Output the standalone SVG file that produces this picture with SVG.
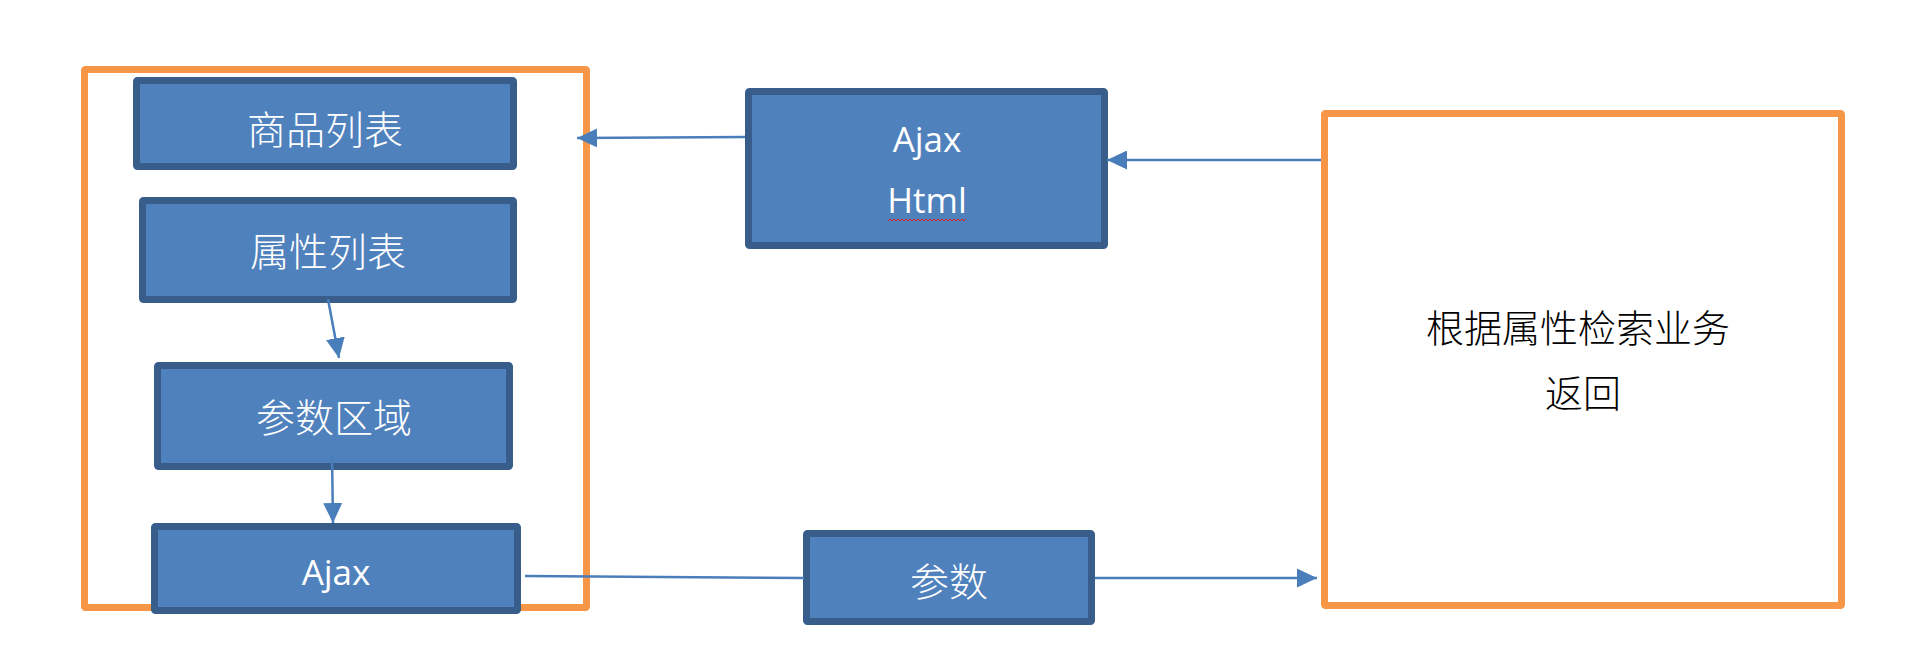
<svg xmlns="http://www.w3.org/2000/svg" width="1918" height="655" viewBox="0 0 1918 655">
<style>
.frame{fill:none;stroke:#F79646;stroke-width:7}
.node{fill:#4F81BD;stroke:#385D8A;stroke-width:7}
.cn{font-family:"Noto Sans CJK SC","Noto Sans",sans-serif;font-size:39px;font-weight:300;fill:#FFFFFF;text-anchor:middle}
.lt{font-family:"Open Sans","Liberation Sans",sans-serif;font-size:35px;fill:#FFFFFF;text-anchor:middle}
.dk{font-family:"Noto Sans CJK SC","Noto Sans",sans-serif;font-size:38px;font-weight:300;fill:#000000;text-anchor:middle}
.edge{fill:none;stroke:#4A7EBB;stroke-width:2.5}
</style>
<defs>
<marker id="arrow" markerUnits="userSpaceOnUse" markerWidth="20" markerHeight="19" refX="20" refY="9.5" orient="auto">
<path d="M0,0 L20,9.5 L0,19 Z" fill="#4A7EBB"/>
</marker>
</defs>
<rect width="1918" height="655" fill="#FFFFFF"/>
<g id="page-frame">
<rect class="frame" x="84.5" y="69.5" width="502" height="538" rx="1"/>
</g>
<g id="service-frame">
<rect class="frame" x="1324.5" y="113.5" width="517" height="492" rx="1"/>
<text class="dk" x="1578" y="342">根据属性检索业务</text>
<text class="dk" x="1583" y="407">返回</text>
</g>
<g id="goods-list">
<rect class="node" x="136.5" y="80.5" width="377" height="86" rx="1"/>
<text class="cn" x="325" y="144">商品列表</text>
</g>
<g id="attr-list">
<rect class="node" x="142.5" y="200.5" width="371" height="99" rx="1"/>
<text class="cn" x="328" y="266">属性列表</text>
</g>
<g id="param-area">
<rect class="node" x="157.5" y="365.5" width="352" height="101" rx="1"/>
<text class="cn" x="334" y="432">参数区域</text>
</g>
<g id="ajax-left">
<rect class="node" x="154.5" y="526.5" width="363" height="84" rx="1"/>
<text class="lt" x="336" y="585">Ajax</text>
</g>
<g id="ajax-html">
<rect class="node" x="748.5" y="91.5" width="356" height="154" rx="1"/>
<text class="lt" x="927" y="152">Ajax</text>
<text class="lt" x="927" y="213">Html</text>
<path d="M888,221 l2,-2 l2,2 l2,-2 l2,2 l2,-2 l2,2 l2,-2 l2,2 l2,-2 l2,2 l2,-2 l2,2 l2,-2 l2,2 l2,-2 l2,2 l2,-2 l2,2 l2,-2 l2,2 l2,-2 l2,2 l2,-2 l2,2 l2,-2 l2,2 l2,-2 l2,2 l2,-2 l2,2 l2,-2 l2,2 l2,-2 l2,2 l2,-2 l2,2 l2,-2 l2,2 l2,-2" fill="none" stroke="#E02020" stroke-width="1"/>
</g>
<g id="params">
<rect class="node" x="806.5" y="533.5" width="285" height="88" rx="1"/>
<text class="cn" x="949" y="596">参数</text>
</g>
<g id="connectors">
<line class="edge" x1="745" y1="137" x2="577" y2="138" marker-end="url(#arrow)"/>
<line class="edge" x1="1321" y1="160" x2="1107" y2="160" marker-end="url(#arrow)"/>
<line class="edge" x1="328" y1="299" x2="339" y2="358" marker-end="url(#arrow)"/>
<line class="edge" x1="332" y1="455" x2="333" y2="523" marker-end="url(#arrow)"/>
<line class="edge" x1="525" y1="576" x2="804" y2="578"/>
<line class="edge" x1="1095" y1="578" x2="1317" y2="578" marker-end="url(#arrow)"/>
</g>
</svg>
